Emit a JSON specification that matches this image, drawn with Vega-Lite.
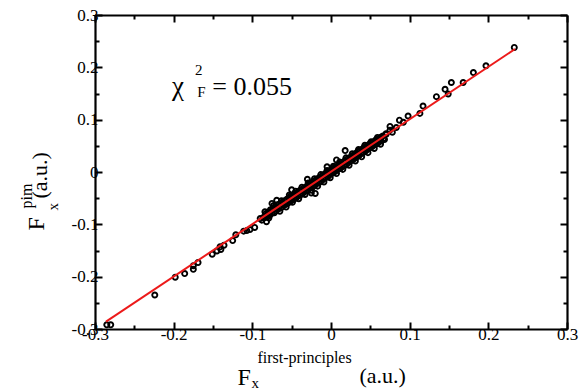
{
  "$schema": "https://vega.github.io/schema/vega-lite/v6.json",
  "width": 472,
  "height": 314,
  "autosize": "none",
  "padding": {"left": 95, "top": 15, "right": 18, "bottom": 59},
  "background": "white",
  "config": {
    "view": {"stroke": null},
    "font": "Liberation Serif",
    "text": {"font": "Liberation Serif"},
    "axis": {"labelFont": "Liberation Serif", "titleFont": "Liberation Serif", "grid": false, "domainColor": "black", "tickColor": "black", "labelColor": "black", "titleColor": "black", "titleFontWeight": "normal", "labelFlush": false, "labelOverlap": false}
  },
  "datasets": {
    "pts": [
      {"fp": -0.285, "pim": -0.292}, {"fp": -0.280, "pim": -0.292}, {"fp": -0.224, "pim": -0.235}, {"fp": -0.198, "pim": -0.201},
      {"fp": -0.186, "pim": -0.194}, {"fp": -0.175, "pim": -0.186}, {"fp": -0.175, "pim": -0.179}, {"fp": -0.169, "pim": -0.173},
      {"fp": -0.151, "pim": -0.157}, {"fp": -0.145, "pim": -0.151}, {"fp": -0.140, "pim": -0.148}, {"fp": -0.141, "pim": -0.143},
      {"fp": -0.136, "pim": -0.140}, {"fp": -0.125, "pim": -0.131}, {"fp": -0.121, "pim": -0.120}, {"fp": -0.111, "pim": -0.113},
      {"fp": -0.107, "pim": -0.112}, {"fp": -0.103, "pim": -0.110}, {"fp": -0.097, "pim": -0.106}, {"fp": -0.090, "pim": -0.089},
      {"fp": -0.086, "pim": -0.087}, {"fp": -0.082, "pim": -0.095},
      {"fp": 0.233, "pim": 0.238}, {"fp": 0.197, "pim": 0.203}, {"fp": 0.181, "pim": 0.190}, {"fp": 0.168, "pim": 0.171},
      {"fp": 0.153, "pim": 0.171}, {"fp": 0.145, "pim": 0.158}, {"fp": 0.149, "pim": 0.149}, {"fp": 0.134, "pim": 0.144},
      {"fp": 0.117, "pim": 0.126}, {"fp": 0.113, "pim": 0.112}, {"fp": 0.098, "pim": 0.107}, {"fp": 0.087, "pim": 0.099},
      {"fp": 0.083, "pim": 0.085}, {"fp": 0.075, "pim": 0.080}, {"fp": 0.064, "pim": 0.067}, {"fp": 0.075, "pim": 0.087},
      {"fp": 0.092, "pim": 0.095}, {"fp": 0.070, "pim": 0.072}, {"fp": 0.078, "pim": 0.076},
      {"fp": 0.018, "pim": 0.041}, {"fp": 0.007, "pim": 0.023}, {"fp": -0.005, "pim": 0.010}, {"fp": -0.020, "pim": -0.041},
      {"fp": -0.025, "pim": -0.040}, {"fp": -0.030, "pim": -0.014}, {"fp": -0.069, "pim": -0.054}, {"fp": -0.075, "pim": -0.060},
      {"fp": -0.050, "pim": -0.034},
      {"fp": -0.085, "pim": -0.088}, {"fp": -0.083, "pim": -0.080}, {"fp": -0.081, "pim": -0.086}, {"fp": -0.080, "pim": -0.077},
      {"fp": -0.078, "pim": -0.083}, {"fp": -0.077, "pim": -0.072}, {"fp": -0.075, "pim": -0.079}, {"fp": -0.074, "pim": -0.070},
      {"fp": -0.072, "pim": -0.078}, {"fp": -0.071, "pim": -0.066}, {"fp": -0.070, "pim": -0.074}, {"fp": -0.068, "pim": -0.071},
      {"fp": -0.067, "pim": -0.062}, {"fp": -0.066, "pim": -0.070}, {"fp": -0.064, "pim": -0.060}, {"fp": -0.063, "pim": -0.068},
      {"fp": -0.062, "pim": -0.058}, {"fp": -0.060, "pim": -0.064}, {"fp": -0.059, "pim": -0.055}, {"fp": -0.058, "pim": -0.062},
      {"fp": -0.056, "pim": -0.052}, {"fp": -0.055, "pim": -0.060}, {"fp": -0.054, "pim": -0.050}, {"fp": -0.052, "pim": -0.057},
      {"fp": -0.051, "pim": -0.046}, {"fp": -0.050, "pim": -0.054}, {"fp": -0.048, "pim": -0.045}, {"fp": -0.047, "pim": -0.052},
      {"fp": -0.046, "pim": -0.041}, {"fp": -0.044, "pim": -0.049}, {"fp": -0.043, "pim": -0.040}, {"fp": -0.042, "pim": -0.046},
      {"fp": -0.040, "pim": -0.036}, {"fp": -0.039, "pim": -0.044}, {"fp": -0.038, "pim": -0.034}, {"fp": -0.036, "pim": -0.041},
      {"fp": -0.035, "pim": -0.031}, {"fp": -0.034, "pim": -0.038}, {"fp": -0.032, "pim": -0.029}, {"fp": -0.031, "pim": -0.036},
      {"fp": -0.030, "pim": -0.026}, {"fp": -0.028, "pim": -0.032}, {"fp": -0.027, "pim": -0.023}, {"fp": -0.026, "pim": -0.030},
      {"fp": -0.024, "pim": -0.020}, {"fp": -0.023, "pim": -0.028}, {"fp": -0.022, "pim": -0.018}, {"fp": -0.020, "pim": -0.025},
      {"fp": -0.019, "pim": -0.015}, {"fp": -0.018, "pim": -0.022}, {"fp": -0.016, "pim": -0.012}, {"fp": -0.015, "pim": -0.020},
      {"fp": -0.014, "pim": -0.010}, {"fp": -0.012, "pim": -0.017}, {"fp": -0.011, "pim": -0.007}, {"fp": -0.010, "pim": -0.014},
      {"fp": -0.008, "pim": -0.004}, {"fp": -0.007, "pim": -0.011}, {"fp": -0.006, "pim": -0.002}, {"fp": -0.004, "pim": -0.009},
      {"fp": -0.003, "pim": 0.001}, {"fp": -0.002, "pim": -0.006}, {"fp": 0.000, "pim": 0.003}, {"fp": 0.001, "pim": -0.003},
      {"fp": 0.002, "pim": 0.006}, {"fp": 0.004, "pim": 0.000}, {"fp": 0.005, "pim": 0.009}, {"fp": 0.006, "pim": 0.002},
      {"fp": 0.008, "pim": 0.011}, {"fp": 0.009, "pim": 0.005}, {"fp": 0.010, "pim": 0.014}, {"fp": 0.012, "pim": 0.007},
      {"fp": 0.013, "pim": 0.016}, {"fp": 0.014, "pim": 0.010}, {"fp": 0.016, "pim": 0.019}, {"fp": 0.017, "pim": 0.012},
      {"fp": 0.018, "pim": 0.022}, {"fp": 0.020, "pim": 0.015}, {"fp": 0.021, "pim": 0.025}, {"fp": 0.022, "pim": 0.018},
      {"fp": 0.024, "pim": 0.027}, {"fp": 0.025, "pim": 0.021}, {"fp": 0.026, "pim": 0.030}, {"fp": 0.028, "pim": 0.024},
      {"fp": 0.029, "pim": 0.033}, {"fp": 0.030, "pim": 0.026}, {"fp": 0.032, "pim": 0.036}, {"fp": 0.033, "pim": 0.029},
      {"fp": 0.034, "pim": 0.039}, {"fp": 0.036, "pim": 0.032}, {"fp": 0.037, "pim": 0.041}, {"fp": 0.038, "pim": 0.035},
      {"fp": 0.040, "pim": 0.044}, {"fp": 0.041, "pim": 0.037}, {"fp": 0.042, "pim": 0.047}, {"fp": 0.044, "pim": 0.040},
      {"fp": 0.045, "pim": 0.049}, {"fp": 0.046, "pim": 0.043}, {"fp": 0.048, "pim": 0.052}, {"fp": 0.049, "pim": 0.046},
      {"fp": 0.050, "pim": 0.055}, {"fp": 0.052, "pim": 0.048}, {"fp": 0.053, "pim": 0.057}, {"fp": 0.054, "pim": 0.051},
      {"fp": 0.056, "pim": 0.060}, {"fp": 0.057, "pim": 0.053}, {"fp": 0.058, "pim": 0.062}, {"fp": 0.060, "pim": 0.056},
      {"fp": 0.062, "pim": 0.065}, {"fp": 0.064, "pim": 0.059}, {"fp": 0.066, "pim": 0.069},
      {"fp": -0.082, "pim": -0.083}, {"fp": -0.076, "pim": -0.075}, {"fp": -0.069, "pim": -0.068}, {"fp": -0.061, "pim": -0.061},
      {"fp": -0.053, "pim": -0.053}, {"fp": -0.045, "pim": -0.044}, {"fp": -0.037, "pim": -0.037}, {"fp": -0.029, "pim": -0.029},
      {"fp": -0.021, "pim": -0.021}, {"fp": -0.013, "pim": -0.013}, {"fp": -0.005, "pim": -0.005}, {"fp": 0.003, "pim": 0.003},
      {"fp": 0.011, "pim": 0.011}, {"fp": 0.019, "pim": 0.019}, {"fp": 0.027, "pim": 0.027}, {"fp": 0.035, "pim": 0.035},
      {"fp": 0.043, "pim": 0.043}, {"fp": 0.051, "pim": 0.051}, {"fp": 0.059, "pim": 0.059}, {"fp": 0.067, "pim": 0.064},
      {"fp": 0.070, "pim": 0.073},
      {"fp": -0.088, "pim": -0.092}, {"fp": -0.084, "pim": -0.076}, {"fp": -0.079, "pim": -0.088}, {"fp": -0.073, "pim": -0.064},
      {"fp": -0.065, "pim": -0.075}, {"fp": -0.063, "pim": -0.055}, {"fp": -0.057, "pim": -0.067}, {"fp": -0.053, "pim": -0.044},
      {"fp": -0.049, "pim": -0.058}, {"fp": -0.045, "pim": -0.037}, {"fp": -0.041, "pim": -0.051}, {"fp": -0.037, "pim": -0.029},
      {"fp": -0.033, "pim": -0.043}, {"fp": -0.029, "pim": -0.021}, {"fp": -0.025, "pim": -0.035}, {"fp": -0.021, "pim": -0.013},
      {"fp": -0.017, "pim": -0.027}, {"fp": -0.013, "pim": -0.005}, {"fp": -0.009, "pim": -0.019}, {"fp": -0.005, "pim": 0.003},
      {"fp": -0.001, "pim": -0.011}, {"fp": 0.003, "pim": 0.011}, {"fp": 0.007, "pim": -0.003}, {"fp": 0.011, "pim": 0.019},
      {"fp": 0.015, "pim": 0.005}, {"fp": 0.019, "pim": 0.027}, {"fp": 0.023, "pim": 0.013}, {"fp": 0.027, "pim": 0.035},
      {"fp": 0.031, "pim": 0.021}, {"fp": 0.035, "pim": 0.043}, {"fp": 0.039, "pim": 0.029}, {"fp": 0.043, "pim": 0.051},
      {"fp": 0.047, "pim": 0.037}, {"fp": 0.051, "pim": 0.058}, {"fp": 0.055, "pim": 0.045}, {"fp": 0.059, "pim": 0.066},
      {"fp": 0.063, "pim": 0.053}, {"fp": 0.068, "pim": 0.062}
    ],
    "line": [{"fp": -0.286, "pim": -0.286}, {"fp": 0.234, "pim": 0.235}]
  },
  "layer": [
    {
      "data": {"name": "pts"},
      "mark": {"type": "point", "shape": "circle", "filled": false, "stroke": "black", "strokeWidth": 1.9, "size": 26, "opacity": 1},
      "encoding": {
        "x": {"field": "fp", "type": "quantitative", "scale": {"domain": [-0.3, 0.3], "nice": false, "zero": false},
          "axis": {"orient": "bottom", "values": [-0.3, -0.2, -0.1, 0, 0.1, 0.2, 0.3], "labelExpr": "'' + datum.value", "labelFont": "Liberation Serif", "labelFontSize": 17, "labelPadding": 4, "domainWidth": 2.2, "tickWidth": 2, "tickSize": -7,
            "title": "F", "titleFont": "Liberation Serif", "titleFontSize": 24, "titleX": 142, "titleY": 55, "titleAlign": "left", "titleBaseline": "alphabetic"}},
        "y": {"field": "pim", "type": "quantitative", "scale": {"domain": [-0.3, 0.3], "nice": false, "zero": false},
          "axis": {"orient": "left", "values": [-0.3, -0.2, -0.1, 0, 0.1, 0.2, 0.3], "labelExpr": "'' + datum.value", "labelFont": "Liberation Serif", "labelFontSize": 17, "labelPadding": 4, "domainWidth": 2.2, "tickWidth": 2, "tickSize": -7,
            "title": "F", "titleFont": "Liberation Serif", "titleFontSize": 24, "titleAngle": 270, "titleX": -52, "titleY": 215, "titleAlign": "left", "titleBaseline": "alphabetic"}}
      }
    },
    {
      "data": {"name": "line"},
      "mark": {"type": "line", "color": "#ec1a1a", "strokeWidth": 2},
      "encoding": {
        "x": {"field": "fp", "type": "quantitative", "axis": {"orient": "top", "values": [-0.3, -0.2, -0.1, 0, 0.1, 0.2, 0.3], "labels": false, "domainWidth": 2.2, "tickWidth": 2, "tickSize": -7, "title": null}},
        "y": {"field": "pim", "type": "quantitative", "axis": {"orient": "right", "values": [-0.3, -0.2, -0.1, 0, 0.1, 0.2, 0.3], "labels": false, "domainWidth": 2.2, "tickWidth": 2, "tickSize": -7, "title": null}}
      }
    },
    {
      "data": {"values": [{}]},
      "mark": {"type": "text", "text": "χ", "fontSize": 27, "align": "left", "baseline": "alphabetic", "font": "Liberation Serif", "color": "black"},
      "encoding": {
        "x": {"datum": -0.202, "type": "quantitative", "axis": {"orient": "bottom", "values": [-0.25, -0.15, -0.05, 0.05, 0.15, 0.25], "labels": false, "domain": false, "tickWidth": 2, "tickSize": -4,
          "title": "x", "titleFont": "Liberation Serif", "titleFontSize": 15, "titleX": 156, "titleY": 58, "titleAlign": "left", "titleBaseline": "alphabetic"}},
        "y": {"datum": 0.147, "type": "quantitative", "axis": {"orient": "left", "values": [-0.25, -0.15, -0.05, 0.05, 0.15, 0.25], "labels": false, "domain": false, "tickWidth": 2, "tickSize": -4,
          "title": "x", "titleFont": "Liberation Serif", "titleFontSize": 15, "titleAngle": 270, "titleX": -38, "titleY": 195, "titleAlign": "left", "titleBaseline": "alphabetic"}}
      }
    },
    {
      "data": {"values": [{}]},
      "mark": {"type": "text", "text": "2", "fontSize": 15, "align": "left", "baseline": "alphabetic", "font": "Liberation Serif", "color": "black"},
      "encoding": {
        "x": {"datum": -0.173, "type": "quantitative", "axis": {"orient": "top", "values": [-0.25, -0.15, -0.05, 0.05, 0.15, 0.25], "labels": false, "domain": false, "tickWidth": 2, "tickSize": -4,
          "title": "first-principles", "titleFont": "Liberation Serif", "titleFontSize": 16, "titleX": 162, "titleY": 347, "titleAlign": "left", "titleBaseline": "alphabetic"}},
        "y": {"datum": 0.185, "type": "quantitative", "axis": {"orient": "right", "values": [-0.25, -0.15, -0.05, 0.05, 0.15, 0.25], "labels": false, "domain": false, "tickWidth": 2, "tickSize": -4,
          "title": "pim", "titleFont": "Liberation Serif", "titleFontSize": 16, "titleAngle": 270, "titleX": -536, "titleY": 193, "titleAlign": "left", "titleBaseline": "alphabetic"}}
      }
    },
    {
      "data": {"values": [{}]},
      "mark": {"type": "text", "text": "F", "fontSize": 15, "align": "left", "baseline": "alphabetic", "font": "Liberation Serif", "color": "black"},
      "encoding": {
        "x": {"datum": -0.170, "type": "quantitative", "axis": {"orient": "bottom", "labels": false, "domain": false, "ticks": false,
          "title": "(a.u.)", "titleFont": "Liberation Serif", "titleFontSize": 22, "titleX": 264, "titleY": 53, "titleAlign": "left", "titleBaseline": "alphabetic"}},
        "y": {"datum": 0.143, "type": "quantitative", "axis": {"orient": "left", "labels": false, "domain": false, "ticks": false,
          "title": "(a.u.)", "titleFont": "Liberation Serif", "titleFontSize": 22, "titleAngle": 270, "titleX": -49, "titleY": 183, "titleAlign": "left", "titleBaseline": "alphabetic"}}
      }
    },
    {
      "data": {"values": [{}]},
      "mark": {"type": "text", "text": "= 0.055", "fontSize": 26, "align": "left", "baseline": "alphabetic", "font": "Liberation Serif", "color": "black"},
      "encoding": {
        "x": {"datum": -0.151, "type": "quantitative", "axis": null},
        "y": {"datum": 0.147, "type": "quantitative", "axis": null}
      }
    }
  ],
  "resolve": {"axis": {"x": "independent", "y": "independent"}}
}
